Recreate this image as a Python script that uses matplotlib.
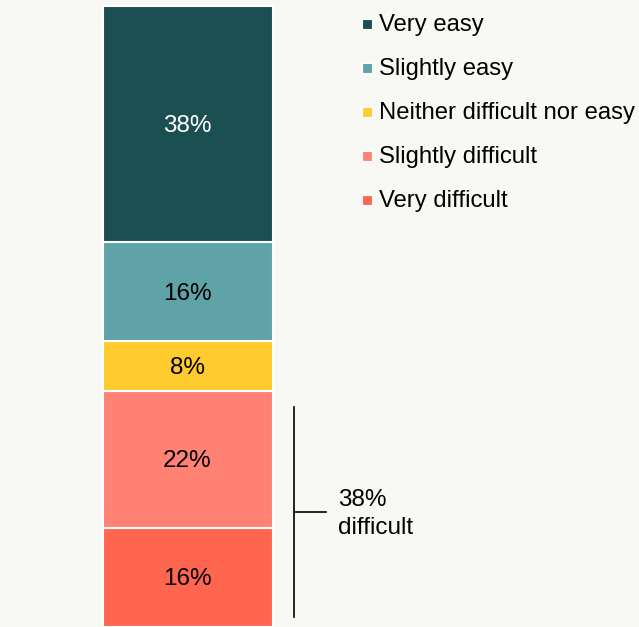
import matplotlib.pyplot as plt
from matplotlib.patches import Rectangle

categories = ["Very difficult", "Slightly difficult", "Neither difficult nor easy",
              "Slightly easy", "Very easy"]
values = [16, 22, 8, 16, 38]
colors = ["#ff6650", "#ff8275", "#ffcb2e", "#5fa3a8", "#1c4f52"]
label_colors = ["black", "black", "black", "black", "white"]
difficult_total = values[0] + values[1]

W, H = 639, 627
plt.rcParams["font.family"] = ["Liberation Sans", "DejaVu Sans"]
fig = plt.figure(figsize=(W / 100, H / 100), dpi=100, facecolor="#f8f8f4")
ax = fig.add_axes([0, 0, 1, 1])
ax.set_facecolor("#f8f8f4")
ax.set_xlim(0, W)
ax.set_ylim(0, 100 * H / 621)
ax.axis("off")

bottom = 0
for v, c, lc in zip(values, colors, label_colors):
    ax.bar(187.5, v, width=170, bottom=bottom, color=c, edgecolor="white", linewidth=1.5)
    ax.text(187.5, bottom + v / 2 - 0.3, f"{v}%", ha="center", va="center",
            fontsize=17.5, color=lc)
    bottom += v

# bracket for the difficult share
y0, y1 = 1.6, difficult_total - 2.6
ax.plot([294, 294], [y0, y1], color="black", lw=1.2)
ax.plot([294, 326], [(y0 + y1) / 2] * 2, color="black", lw=1.2)
ax.text(338, (y0 + y1) / 2 - 0.3, f"{difficult_total}%\ndifficult", ha="left", va="center",
        fontsize=17.5, linespacing=1.32)

# legend
for i, (cat, c) in enumerate(zip(categories[::-1], colors[::-1])):
    yp = H - (24 + 44 * i)
    fig.patches.append(Rectangle((362 / W, (yp - 5) / H), 10 / W, 10 / H,
                                 transform=fig.transFigure, facecolor=c,
                                 edgecolor="white", lw=0.8))
    fig.text(379 / W, (yp - 1) / H, cat, ha="left", va="center", fontsize=17.2)

fig.savefig("out.png", dpi=100, facecolor=fig.get_facecolor())
